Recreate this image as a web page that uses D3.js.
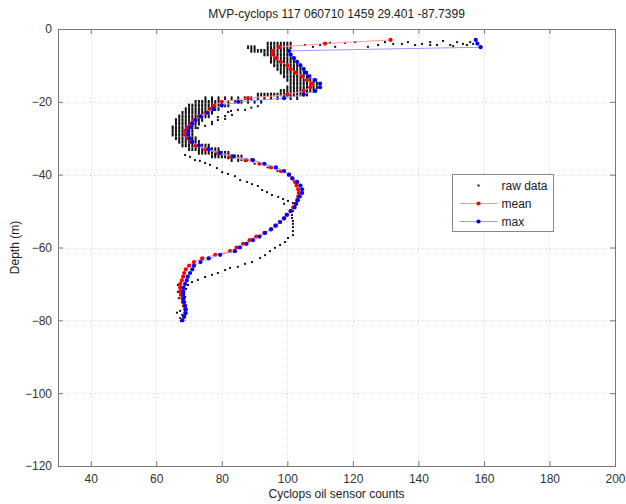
<!DOCTYPE html>
<html>
<head>
<meta charset="utf-8">
<script src="https://cdn.jsdelivr.net/npm/d3@7.9.0/dist/d3.min.js"></script>
<style>
  body { margin: 0; background: #fff; }
  svg { font-family: "Liberation Sans", Arial, sans-serif; }
</style>
</head>
<body>
<div class="container"></div>
<script>
// chart values
const title = "MVP-cyclops 117 060710 1459 29.401 -87.7399";
const xTicks = [40, 60, 80, 100, 120, 140, 160, 180, 200];
const yTicks = [-120, -100, -80, -60, -40, -20, 0];

// binned profiles: depth (m) and counts
const binDepth = [3, 4, 5, 6, 7, 8, 9, 10, 11, 12, 13, 14, 15, 16, 17, 18, 19, 20,
  21, 22, 23, 24, 25, 26, 27, 28, 29, 30, 31, 32, 33, 34, 35, 36, 37, 38, 39, 40,
  41, 42, 43, 44, 45, 46, 47, 48, 49, 50, 51, 52, 53, 54, 55, 56, 57, 58, 59, 60,
  61, 62, 63, 64, 65, 66, 67, 68, 69, 70, 71, 72, 73, 74, 75, 76, 77, 78, 79, 80];
const meanCounts = [131.5, 111.5, 97.5, 95.5, 95.5, 96.5, 98, 100, 101, 102.5, 104.5, 106, 107.5, 107, 105, 100, 88, 80,
  77.5, 76.5, 75, 73, 71.5, 70.5, 69.5, 68.8, 68.8, 69.5, 70.5, 72, 75, 78.8, 82.5, 87.5, 91.5, 95, 98, 100.5,
  101.5, 102.3, 102.8, 103.3, 103.5, 103.3, 103, 102.5, 101.8, 101, 100, 99, 97.7, 96.3, 95, 93, 90.5, 88.5, 86.5, 84.5,
  82.5, 78, 74, 71.5, 70, 69, 68.5, 68.2, 67.8, 67.3, 67.3, 67.3, 67.5, 68, 68.2, 68.5, 68.8, 68.8, 68.5, null];
const maxCounts = [157.5, 158, 159, 100.5, 101, 102, 103, 104, 105, 105.5, 106.5, 108.5, 110, 110, 108.5, 105, 99, 85,
  80, 77.5, 75.5, 73.5, 72, 71, 70.3, 69.8, 69.7, 70.2, 71, 73, 76, 79.5, 83.5, 89.5, 93, 96.5, 99, 100.5,
  101.5, 103, 104, 104.5, 104.5, 103.8, 103.2, 102.7, 102.2, 101, 99.8, 99, 97.8, 96.5, 95, 93.2, 91.5, 89.5, 87.5, 85.5,
  84, 79.5, 76, 73.5, 71.5, 71, 70.3, 69.6, 69.3, 68.8, 68.3, 68.2, 68.2, 68.3, 68.5, 68.8, 69, 69, 68.5, 68];

// raw samples in the dense upper layer: depth and the integer counts seen there
const rawRows = [
  [4, [94, 95, 96, 97, 98, 99, 100, 101]],
  [5, [88, 89, 90, 94, 95, 96, 97, 98, 99, 100, 101]],
  [6, [89, 90, 91, 92, 93, 94, 95, 96, 97, 98, 99, 100]],
  [7, [93, 94, 95, 96, 97, 98, 99, 100, 101]],
  [8, [95, 96, 97, 98, 99, 100, 101, 102]],
  [9, [95, 96, 97, 98, 99, 100, 101, 102, 103]],
  [10, [96, 97, 98, 99, 100, 101, 102, 103, 104]],
  [11, [97, 98, 99, 100, 101, 102, 103, 104, 105]],
  [12, [98, 99, 100, 101, 102, 103, 104, 105, 106]],
  [13, [99, 100, 101, 102, 103, 104, 105, 106, 107]],
  [14, [100, 101, 102, 103, 104, 105, 106, 107, 108]],
  [15, [101, 102, 103, 104, 105, 106, 107, 108, 109]],
  [16, [100, 101, 102, 103, 104, 105, 106, 107, 108, 109, 110]],
  [17, [98, 99, 100, 101, 102, 103, 104, 105, 106, 107, 108]],
  [18, [91, 92, 93, 94, 95, 96, 97, 98, 99, 100, 101, 102, 103, 104, 105, 106]],
  [19, [75, 77, 79, 81, 83, 85, 87, 89, 91, 93, 95, 97, 99, 101, 103]],
  [20, [72, 73, 74, 75, 76, 77, 78, 79, 80, 82, 84, 86, 88, 90, 92]],
  [21, [70, 71, 72, 73, 74, 75, 76, 77, 78, 79, 80, 81, 82]],
  [22, [69, 70, 71, 72, 73, 74, 75, 76, 77, 78, 79]],
  [23, [68, 69, 70, 71, 72, 73, 74, 75, 76, 77]],
  [24, [67, 68, 69, 70, 71, 72, 73, 74, 75, 76]],
  [25, [66, 67, 68, 69, 70, 71, 72, 73, 74]],
  [26, [66, 67, 68, 69, 70, 71, 72, 73]],
  [27, [65, 66, 67, 68, 69, 70, 71, 72]],
  [28, [65, 66, 67, 68, 69, 70, 71]],
  [29, [65, 66, 67, 68, 69, 70, 71]],
  [30, [66, 67, 68, 69, 70, 71, 72]],
  [31, [67, 68, 69, 70, 71, 72, 73]],
  [32, [68, 69, 70, 71, 72, 73, 74, 75, 76]],
  [33, [70, 71, 72, 73, 74, 75, 76, 77, 78, 79]],
  [34, [73, 74, 75, 76, 77, 78, 79, 80, 81, 82]],
  [35, [77, 78, 79, 80, 81, 82, 83, 84, 85, 86]],
  [36, [83, 85, 87, 89]]
];

// scattered raw samples: [counts, depth]
const rawScatter = [
  // surface streak
  [105.4, 4.4], [107.8, 4.9], [110, 4.4], [113, 3.8], [114.6, 4.9], [117.6, 3.8], [120.7, 3.6], [124.6, 4.9],
  [127.7, 4.4], [129.8, 3.6], [132.3, 4.1], [135, 4.1], [136.8, 3.6], [139, 4.4], [141.1, 4.1], [143.6, 3.6],
  [143.6, 4.4], [145.7, 4.4], [147.5, 3.3], [149.7, 4.4], [150.6, 4.7], [151.8, 3.6], [153.6, 4.1], [154.8, 4.4],
  [155.8, 3.6], [156.7, 4.1],
  // second cast, upper limb
  [91, 21.2], [89, 21.6], [87.1, 22.2], [84.9, 22.2], [82.8, 22.5], [81.9, 22.8], [83.1, 23.6], [81, 23.9],
  [78.8, 24.2], [81, 24.7], [78.8, 25], [77, 25.5], [77, 26.1], [74.9, 26.6], [72.7, 27.2],
  // around 35-40 m
  [78, 34.5], [82, 35.5], [86, 36], [90, 37], [94, 38], [97, 39],
  // second cast, lower limb
  [68.8, 34.6], [70.3, 35.1], [71.8, 36], [73.3, 36.2], [74.9, 36.8], [76.4, 37.3], [78.5, 38.2], [80.1, 39.3],
  [81.9, 39.8], [84, 40.4], [85.6, 41.5], [87.7, 42], [89.2, 42.6], [91, 43.1], [92.3, 44.2], [93.8, 44.8],
  [95.3, 45.6], [97.2, 46.1], [98.7, 46.7], [100.2, 47.2], [99, 48], [101.7, 47.8], [101.7, 48.9], [101.7, 50],
  [101.4, 51.1], [101.4, 51.9], [101.7, 52.7], [101.7, 53.5], [101.7, 54.4], [101.7, 55.5], [101.7, 56.6],
  [100.2, 57.4], [99.3, 58.5], [97.8, 59.3], [96.2, 60.1], [94.7, 61], [93.2, 62.1], [91.7, 62.9], [89.2, 64],
  [87.1, 64.5], [84.9, 65.3], [82.5, 65.6], [81, 66.2], [78.8, 67], [77, 67.5], [74.9, 68.1], [72.7, 68.9],
  [70.9, 69.5], [69.7, 70.3], [69.1, 71.4], [68.5, 72.5], [68.8, 73.6], [67.9, 74.7], [68.2, 76.1], [67.3, 77.4],
  [67.9, 78.5],
  // bottom, left of the profile
  [66.6, 70.3], [66.6, 72.2], [66.9, 73.9], [66.3, 77.9], [67.3, 79.4], [67.5, 80.2]
];

const width = 626, height = 504;
const plot = { left: 58, right: 615, top: 29, bottom: 466 };

const svg = d3.select(".container")
  .append("svg")
  .attr("width", width)
  .attr("height", height);

const x = d3.scaleLinear().domain([30, 200]).range([plot.left, plot.right]);
const y = d3.scaleLinear().domain([-120, 0]).range([plot.bottom, plot.top]);

// grid
const grid = svg.append("g")
  .attr("stroke", "#d0d0d0")
  .attr("stroke-width", 1)
  .attr("stroke-dasharray", "1,3");
grid.selectAll(".gx")
  .data(xTicks.filter(d => d < 200))
  .enter().append("line")
  .attr("x1", d => Math.round(x(d)) + 0.5).attr("x2", d => Math.round(x(d)) + 0.5)
  .attr("y1", plot.top).attr("y2", plot.bottom);
grid.selectAll(".gy")
  .data(yTicks.filter(d => d > -120 && d < 0))
  .enter().append("line")
  .attr("y1", d => Math.round(y(d)) + 0.5).attr("y2", d => Math.round(y(d)) + 0.5)
  .attr("x1", plot.left).attr("x2", plot.right);

// axes, MATLAB style: ticks inside, on all four sides
const axisColor = "#777";
function styleAxis(g) {
  g.select(".domain").remove();
  g.selectAll(".tick line").attr("stroke", axisColor);
  g.selectAll(".tick text").attr("fill", "#333").style("font-size", "12px");
}
svg.append("g")
  .attr("transform", `translate(0,${plot.bottom})`)
  .call(d3.axisBottom(x).tickValues(xTicks).tickSize(-5).tickPadding(8))
  .call(styleAxis);
svg.append("g")
  .attr("transform", `translate(0,${plot.top})`)
  .call(d3.axisTop(x).tickValues(xTicks).tickSize(-5).tickFormat(""))
  .call(styleAxis);
svg.append("g")
  .attr("transform", `translate(${plot.left},0)`)
  .call(d3.axisLeft(y).tickValues(yTicks).tickSize(-5).tickPadding(6))
  .call(styleAxis);
svg.append("g")
  .attr("transform", `translate(${plot.right},0)`)
  .call(d3.axisRight(y).tickValues(yTicks).tickSize(-5).tickFormat(""))
  .call(styleAxis);

svg.append("rect")
  .attr("x", plot.left + 0.5).attr("y", plot.top + 0.5)
  .attr("width", plot.right - plot.left).attr("height", plot.bottom - plot.top)
  .attr("fill", "none").attr("stroke", axisColor);

// raw data: dense rows stack into columns, scattered samples are single dots
const rowStep = y(-1) - y(0);
const rawPoints = [];
rawRows.forEach(([depth, counts]) => counts.forEach(c => rawPoints.push({ c, depth, h: rowStep })));
rawScatter.forEach(([c, depth]) => rawPoints.push({ c, depth, h: 2 }));

svg.append("g")
  .selectAll("rect")
  .data(rawPoints)
  .enter().append("rect")
  .attr("x", d => x(d.c) - 1)
  .attr("y", d => y(-d.depth) - d.h / 2)
  .attr("width", 2)
  .attr("height", d => d.h)
  .attr("fill", "#111");

// mean and max profiles
function profile(values, lineColor, dotColor) {
  const pts = binDepth.map((d, i) => [values[i], d]).filter(p => p[0] != null);
  const line = d3.line().x(p => x(p[0])).y(p => y(-p[1]));
  const g = svg.append("g");
  g.append("path")
    .datum(pts)
    .attr("d", line)
    .attr("fill", "none")
    .attr("stroke", lineColor)
    .attr("stroke-width", 1);
  g.selectAll("circle")
    .data(pts)
    .enter().append("circle")
    .attr("cx", p => x(p[0]))
    .attr("cy", p => y(-p[1]))
    .attr("r", 2.1)
    .attr("fill", dotColor);
}
profile(meanCounts, "#ff9a9a", "#ff0000");
profile(maxCounts, "#9a9aff", "#0000ff");

// titles
svg.append("text")
  .attr("x", (plot.left + plot.right) / 2).attr("y", 18)
  .attr("text-anchor", "middle")
  .style("font-size", "12px").attr("fill", "#222")
  .text(title);
svg.append("text")
  .attr("x", (plot.left + plot.right) / 2).attr("y", 498)
  .attr("text-anchor", "middle")
  .style("font-size", "12px").attr("fill", "#222")
  .text("Cyclops oil sensor counts");
svg.append("text")
  .attr("transform", `translate(19,${(plot.top + plot.bottom) / 2}) rotate(-90)`)
  .attr("text-anchor", "middle")
  .style("font-size", "12px").attr("fill", "#222")
  .text("Depth (m)");

// legend
const legend = svg.append("g").attr("transform", "translate(452.5,174.5)");
legend.append("rect")
  .attr("width", 101).attr("height", 57)
  .attr("fill", "#fff").attr("stroke", "#888");
const entries = [
  { name: "raw data", line: null, dot: "#111" },
  { name: "mean", line: "#ff9a9a", dot: "#ff0000" },
  { name: "max", line: "#9a9aff", dot: "#0000ff" }
];
entries.forEach((e, i) => {
  const cy = 11 + i * 18;
  if (e.line) {
    legend.append("line")
      .attr("x1", 7).attr("x2", 45).attr("y1", cy).attr("y2", cy)
      .attr("stroke", e.line);
    legend.append("circle").attr("cx", 26).attr("cy", cy).attr("r", 2.1).attr("fill", e.dot);
  } else {
    legend.append("rect").attr("x", 25).attr("y", cy - 1).attr("width", 2).attr("height", 2).attr("fill", e.dot);
  }
  legend.append("text")
    .attr("x", 49).attr("y", cy + 4)
    .style("font-size", "12px").attr("fill", "#222")
    .text(e.name);
});
</script>
</body>
</html>
